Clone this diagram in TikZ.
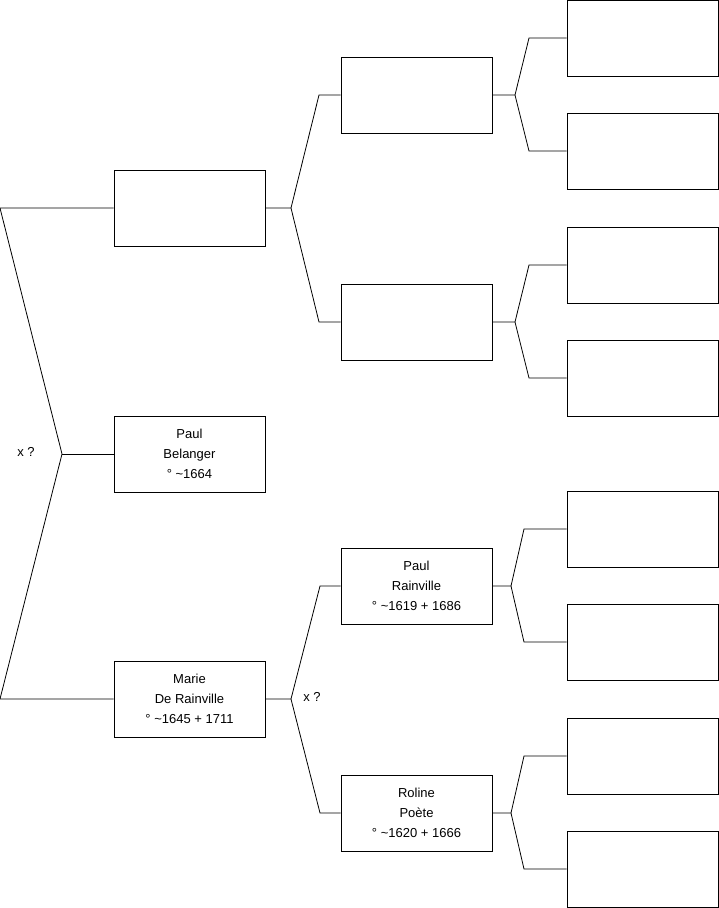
\documentclass[tikz,border=0pt]{standalone}
\usepackage{fontspec}
\setmainfont{Liberation Sans}
\usetikzlibrary{positioning}

\tikzset{
  person/.style={draw, rectangle, line width=0.8pt, minimum width=151pt, minimum height=76pt,
    inner sep=0pt, align=center, font=\fontsize{13}{20}\selectfont},
  link/.style={line width=0.8pt, draw=black}
}

\begin{document}
\begin{tikzpicture}[x=1pt, y=-1pt]
  \useasboundingbox (0,0) rectangle (719,908);
  % generation 1
  \node[person] (top) at (189.5,208) {};
  \node[person] (belanger) at (189.5,454) {Paul\\Belanger\\° \textasciitilde1664};
  \node[person] (marie) at (189.5,699) {Marie\\De Rainville\\° \textasciitilde1645 + 1711};
  % generation 2
  \node[person] (topfa) at (416.5,95) {};
  \node[person] (topmo) at (416.5,322) {};
  \node[person] (prainville) at (416.5,586) {Paul\\Rainville\\° \textasciitilde1619 + 1686};
  \node[person] (roline) at (416.5,813) {Roline\\Poète\\° \textasciitilde1620 + 1666};
  % generation 3
  \node[person] (a1) at (642.5,38) {};
  \node[person] (a2) at (642.5,151) {};
  \node[person] (a3) at (642.5,265) {};
  \node[person] (a4) at (642.5,378) {};
  \node[person] (a5) at (642.5,529) {};
  \node[person] (a6) at (642.5,642) {};
  \node[person] (a7) at (642.5,756) {};
  \node[person] (a8) at (642.5,869) {};

  % couple on the left
  \coordinate (lup) at (0,208);
  \coordinate (lmid) at (62,454);
  \coordinate (ldown) at (0,699);
  \draw[link] (top.west) -- (lup) -- (lmid) -- (ldown) -- (marie.west);
  \draw[link] (lmid) -- (belanger.west);
  \node[font=\fontsize{13}{14}\selectfont] (xq1) at (26,452) {x ?};

  % parents of the top box
  \coordinate (j1) at (291,208);
  \draw[link] (top.east) -- (j1) -- (319,95) -- (topfa.west);
  \draw[link] (j1) -- (319,322) -- (topmo.west);

  % parents of Marie
  \coordinate (j2) at (291,699);
  \draw[link] (marie.east) -- (j2) -- (320,586) -- (prainville.west);
  \draw[link] (j2) -- (320,813) -- (roline.west);
  \node[font=\fontsize{13}{14}\selectfont] (xq2) at (312,697) {x ?};

  % generation 3 links
  \coordinate (j3) at (515,95);
  \draw[link] (topfa.east) -- (j3) -- (529,38) -- (a1.west);
  \draw[link] (j3) -- (529,151) -- (a2.west);
  \coordinate (j4) at (515,322);
  \draw[link] (topmo.east) -- (j4) -- (529,265) -- (a3.west);
  \draw[link] (j4) -- (529,378) -- (a4.west);
  \coordinate (j5) at (511,586);
  \draw[link] (prainville.east) -- (j5) -- (524,529) -- (a5.west);
  \draw[link] (j5) -- (524,642) -- (a6.west);
  \coordinate (j6) at (511,813);
  \draw[link] (roline.east) -- (j6) -- (524,756) -- (a7.west);
  \draw[link] (j6) -- (524,869) -- (a8.west);
\end{tikzpicture}
\end{document}
